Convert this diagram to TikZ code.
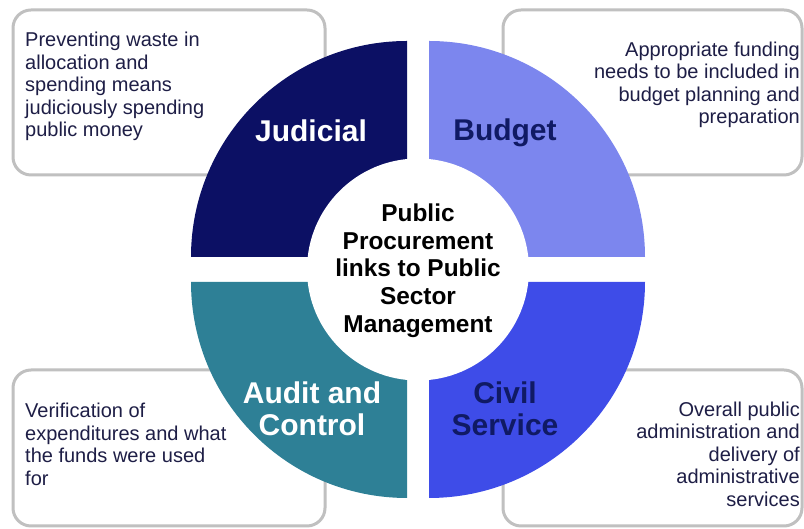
\documentclass[tikz,border=0pt]{standalone}
\usepackage{fontspec}
\setmainfont{Liberation Sans}
\definecolor{judicialc}{RGB}{12,16,100}
\definecolor{budgetc}{RGB}{124,134,238}
\definecolor{auditc}{RGB}{46,128,150}
\definecolor{civilc}{RGB}{62,76,232}
\definecolor{navytext}{RGB}{16,26,100}
\definecolor{boxtext}{RGB}{30,30,70}
\definecolor{boxline}{RGB}{192,192,192}
\begin{document}
\begin{tikzpicture}[x=1pt,y=1pt,
  infobox/.style={draw=boxline,line width=3pt,rounded corners=18pt,fill=white},
  infotext/.style={text=boxtext,inner sep=0pt,font=\fontsize{20}{22.5}\selectfont},
  quadlabel/.style={inner sep=0pt,align=center,font=\fontsize{30}{32}\selectfont\bfseries},
  hubtext/.style={inner sep=0pt,align=center,text=black,font=\fontsize{24.4}{27.7}\selectfont\bfseries}]
\useasboundingbox (0,0) rectangle (804,529);
\fill[white] (0,0) rectangle (804,529);

% description boxes in the four corners
\draw[infobox] (13,354) rectangle (325,519);
\draw[infobox] (503,354) rectangle (802,519);
\draw[infobox] (13,3) rectangle (325,159);
\draw[infobox] (503,3) rectangle (802,159);

\node[infotext,anchor=west,align=left] (tl) at (25,442.5)
  {Preventing waste in\\allocation and\\spending means\\judiciously spending\\public money};
\node[infotext,anchor=east,align=right] (tr) at (800,444)
  {Appropriate funding\\needs to be included in\\budget planning and\\preparation};
\node[infotext,anchor=west,align=left] (bl) at (25,84.5)
  {Verification of\\expenditures and what\\the funds were used\\for};
\node[infotext,anchor=east,align=right] (br) at (800,75)
  {Overall public\\administration and\\delivery of\\administrative\\services};

% four quarter discs separated by a cross-shaped gap
\fill[judicialc] (407,272) -- ++(-216,0) arc[start angle=180,end angle=90,radius=216] -- cycle;
\fill[budgetc] (429,272) -- ++(0,216) arc[start angle=90,end angle=0,radius=216] -- cycle;
\fill[auditc] (407,247) -- ++(-216,0) arc[start angle=180,end angle=270,radius=216] -- cycle;
\fill[civilc] (429,247) -- ++(216,0) arc[start angle=0,end angle=-90,radius=216] -- cycle;

% central hub
\fill[white] (418,259.5) circle[radius=111];
\node[hubtext] (hub) at (418,258.5)
  {Public\\Procurement\\links to Public\\Sector\\Management};

\node[quadlabel,text=white] (judicial) at (311,398) {Judicial};
\node[quadlabel,text=navytext] (budget) at (505,396) {Budget};
\node[quadlabel,text=white] (audit) at (312,120) {Audit and\\Control};
\node[quadlabel,text=navytext] (civil) at (505,120) {Civil\\Service};
\end{tikzpicture}
\end{document}
